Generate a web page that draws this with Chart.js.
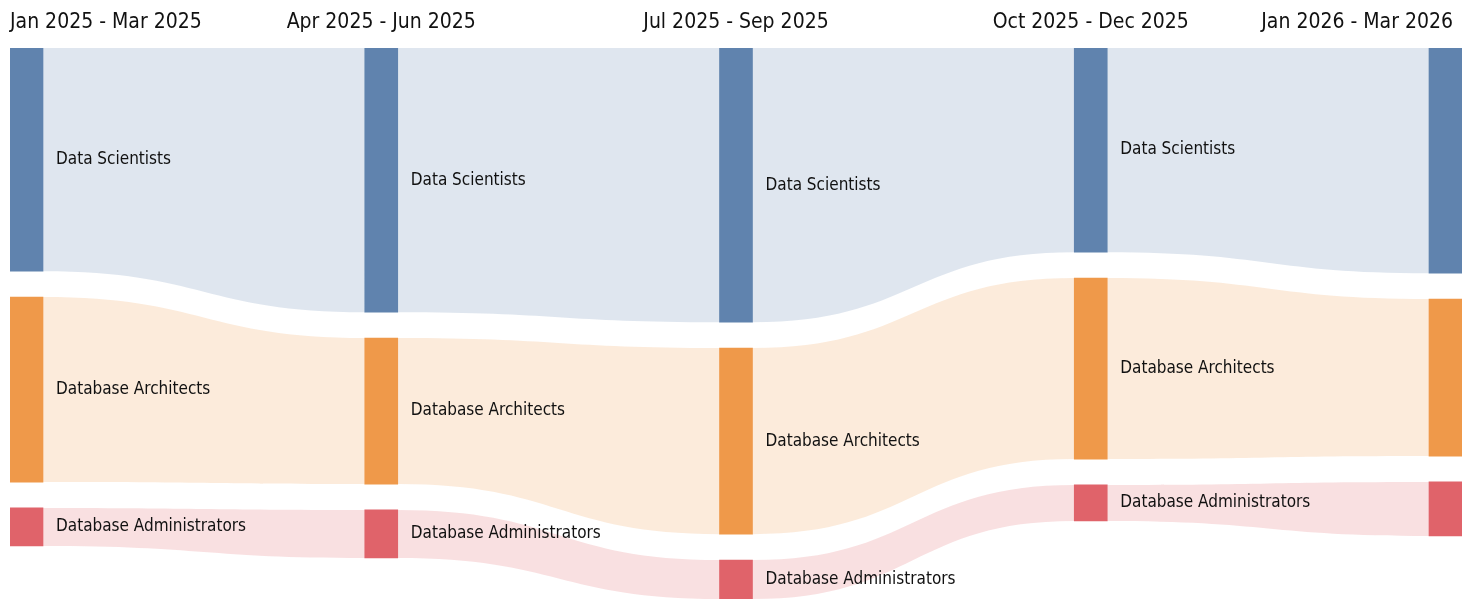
<!DOCTYPE html>
<html>
<head>
<meta charset="utf-8">
<script src="https://cdn.jsdelivr.net/npm/chart.js@4.4.1/dist/chart.umd.min.js"></script>
<style>
  body { margin: 0; background: #fff; }
</style>
</head>
<body>
<canvas id="myChart" width="1471" height="599"></canvas>
<script>
// periods (columns) and the flows between them
const periods = ['Jan 2025 - Mar 2025', 'Apr 2025 - Jun 2025', 'Jul 2025 - Sep 2025', 'Oct 2025 - Dec 2025', 'Jan 2026 - Mar 2026'];
const categories = ['Data Scientists', 'Database Architects', 'Database Administrators'];
const dataScientists = [111.5, 132, 137, 102, 112.5];
const dbArchitects = [92.5, 73, 93, 90.5, 78.5];
const dbAdmins = [19, 24, 19.5, 18, 27];
const nodeColors = ['rgb(96, 131, 174)', 'rgb(239, 153, 74)', 'rgb(224, 99, 106)'];
const flowColors = ['rgba(96, 131, 174, 0.2)', 'rgba(239, 153, 74, 0.2)', 'rgba(224, 99, 106, 0.2)'];

const series = [dataScientists, dbArchitects, dbAdmins];
const GAP = 12.9;
const NODE_W = 33;
const FONT = '"DejaVu Sans Condensed", "DejaVu Sans", sans-serif';

// stack nodes per column: [top, bottom] in value units
const ranges = series.map(() => []);
let maxTotal = 0;
periods.forEach(function (p, i) {
    let start = 0;
    series.forEach(function (s, c) {
        ranges[c][i] = [start, start + s[i]];
        start += s[i] + GAP;
    });
    // start - GAP already holds values plus the gaps between nodes
    maxTotal = Math.max(maxTotal, start - GAP);
});

const datasets = series.map(function (s, c) {
    return {
        label: categories[c],
        data: ranges[c].map(function (r, i) { return {x: i, y: r}; }),
        backgroundColor: nodeColors[c],
        borderWidth: 0,
        barThickness: NODE_W,
        grouped: false
    };
});

// draw the curved bands between nodes
const flowPlugin = {
    id: 'flows',
    beforeDatasetsDraw: function (chart) {
        const ctx = chart.ctx;
        const xs = chart.scales.x, ys = chart.scales.y;
        ctx.save();
        ranges.forEach(function (r, c) {
            for (let i = 0; i < periods.length - 1; i++) {
                const x0 = xs.getPixelForValue(i) + NODE_W / 2;
                const x1 = xs.getPixelForValue(i + 1) - NODE_W / 2;
                const mx = (x0 + x1) / 2;
                const t0 = ys.getPixelForValue(r[i][0]), b0 = ys.getPixelForValue(r[i][1]);
                const t1 = ys.getPixelForValue(r[i + 1][0]), b1 = ys.getPixelForValue(r[i + 1][1]);
                ctx.beginPath();
                ctx.moveTo(x0, t0);
                ctx.bezierCurveTo(mx, t0, mx, t1, x1, t1);
                ctx.lineTo(x1, b1);
                ctx.bezierCurveTo(mx, b1, mx, b0, x0, b0);
                ctx.closePath();
                ctx.fillStyle = flowColors[c];
                ctx.fill();
            }
        });
        ctx.restore();
    },
    afterDatasetsDraw: function (chart) {
        const ctx = chart.ctx;
        const xs = chart.scales.x, ys = chart.scales.y;
        ctx.save();
        ctx.fillStyle = '#111';
        // node labels
        ctx.font = '17px ' + FONT;
        ctx.textAlign = 'left';
        ctx.textBaseline = 'middle';
        ranges.forEach(function (r, c) {
            for (let i = 0; i < periods.length - 1; i++) {
                const y = (ys.getPixelForValue(r[i][0]) + ys.getPixelForValue(r[i][1])) / 2;
                ctx.fillText(categories[c], xs.getPixelForValue(i) + NODE_W / 2 + 13, y);
            }
        });
        // period headers
        ctx.font = '21px ' + FONT;
        ctx.textBaseline = 'alphabetic';
        periods.forEach(function (p, i) {
            let x = xs.getPixelForValue(i);
            if (i === 0) {
                ctx.textAlign = 'left';
                x -= NODE_W / 2;
            } else if (i === periods.length - 1) {
                ctx.textAlign = 'right';
                x = chart.width - 18;
            } else {
                ctx.textAlign = 'center';
            }
            ctx.fillText(p, x, 28);
        });
        ctx.restore();
    }
};

const pad = 0.0465;
var ctx = document.getElementById('myChart').getContext('2d');
var myChart = new Chart(ctx, {
    type: 'bar',
    data: {datasets: datasets},
    options: {
        responsive: false,
        animation: false,
        layout: {padding: {left: 10, right: 9, top: 48, bottom: 0}},
        plugins: {legend: {display: false}, tooltip: {enabled: false}},
        scales: {
            x: {type: 'linear', offset: false, min: -pad, max: periods.length - 1 + pad, display: false},
            y: {min: 0, max: maxTotal, reverse: true, display: false}
        }
    },
    plugins: [flowPlugin]
});
</script>
</body>
</html>
